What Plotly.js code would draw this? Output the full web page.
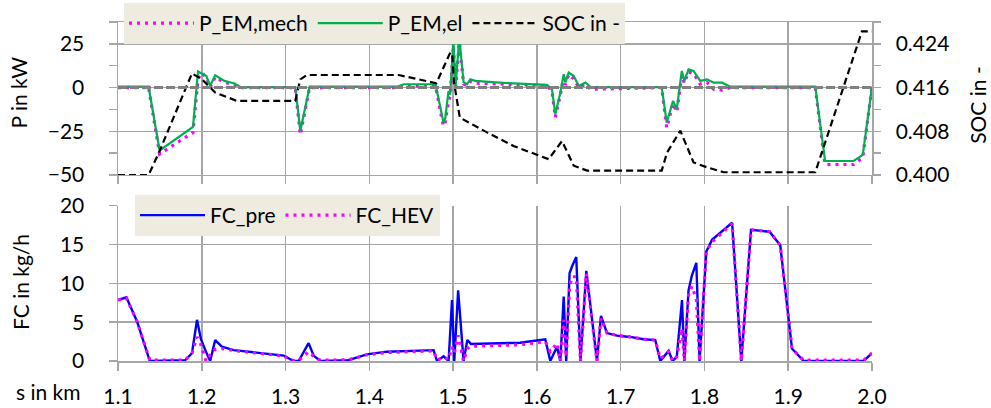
<!DOCTYPE html>
<html>
<head>
<meta charset="utf-8">
<script src="https://cdn.plot.ly/plotly-3.0.1.min.js"></script>
<style>html,body{margin:0;padding:0;background:#fff;}#chart{width:991px;height:408px;}</style>
</head>
<body>
<div id="chart"></div>
<script>
// ---- data ----
const s_pem = [1.1000,1.1365,1.1497,1.1895,1.1955,1.2003,1.2055,1.2100,1.2160,1.2270,1.2390,1.2460,1.3116,1.3176,1.3287,1.4330,1.4410,1.4790,1.4866,1.4885,1.4905,1.4945,1.4965,1.5003,1.5030,1.5074,1.5125,1.5165,1.5205,1.5265,1.5600,1.6120,1.6180,1.6220,1.6280,1.6320,1.6340,1.6380,1.6440,1.6500,1.6580,1.6640,1.7490,1.7550,1.7625,1.7670,1.7730,1.7760,1.7810,1.7870,1.7950,1.8030,1.8110,1.8210,1.8310,1.9323,1.9440,1.9780,1.9890,2.0000];
const p_el = [0.5,0.5,-36,-22.5,9.2,8.0,6.6,1.0,7.0,3.8,2.3,0.3,0.3,-24.8,0.5,0.5,1.9,1.9,-16,-20,-18,-2,-4,26.6,1,28.5,3,1.9,4.7,3.8,2.7,1.5,-1,-15.2,-2.9,7.6,2.9,8.6,6.6,0.9,2.9,0.3,0.3,-20,-7.6,-12.4,9.5,3.8,10.4,9.5,3.8,4.7,2.8,2.8,0.5,0.5,-42,-42,-38.5,0.5];
const p_mech = [0,0,-38,-25.7,5,8.5,5.5,0,6,3,1.5,0,0,-27,0,0,1,1,-18,-22,-20,-7.6,-5,24,0,26,2,1,3.5,2.5,2,1,-2,-17,-4,6,1.5,7.5,5,0,2,-1,0,-23,-9,-14,7,2.5,9,8,2,3,-1,-1.4,0,0,-44,-44,-40,0.5];

const s_soc = [1.1000,1.1365,1.1497,1.1883,1.2003,1.2160,1.2420,1.3116,1.3176,1.3256,1.4350,1.4800,1.4966,1.4990,1.5010,1.5080,1.5404,1.5722,1.6140,1.6200,1.6300,1.6440,1.6600,1.7490,1.7553,1.7712,1.7870,1.8030,1.8230,1.9323,1.9880,2.0000];
const soc = [0.4000,0.4000,0.4044,0.4186,0.4175,0.4151,0.41355,0.41355,0.4175,0.4183,0.4183,0.4168,0.4224,0.4222,0.4170,0.4105,0.4078,0.4053,0.4029,0.4041,0.4062,0.4017,0.4008,0.4008,0.4041,0.4081,0.4023,0.4014,0.4005,0.4005,0.4263,0.4263];

const s_fc = [1.1000,1.1100,1.1227,1.1346,1.1380,1.1800,1.1883,1.1943,1.1990,1.2050,1.2100,1.2160,1.2240,1.2380,1.2977,1.3096,1.3156,1.3275,1.3335,1.3415,1.3750,1.3970,1.4210,1.4767,1.4808,1.4887,1.4946,1.4987,1.5014,1.5060,1.5125,1.5170,1.5213,1.5800,1.5920,1.6100,1.6160,1.6240,1.6280,1.6320,1.6350,1.6390,1.6420,1.6470,1.6520,1.6590,1.6717,1.6765,1.6837,1.6956,1.7115,1.7274,1.7413,1.7473,1.7572,1.7620,1.7670,1.7732,1.7760,1.7810,1.7850,1.7903,1.7942,1.8022,1.8090,1.8330,1.8440,1.8556,1.8778,1.8905,1.9045,1.9183,1.9900,2.0000];
const fc_pre = [7.85,8.2,5.1,1.0,0,0.1,1.0,5.3,2.8,1.2,0,2.7,1.85,1.4,0.7,0,0,2.3,0.7,0,0.1,0.85,1.2,1.4,0,0.6,0,7.85,0,9.1,0,2.7,2.2,2.35,2.5,2.8,0,1.85,0,8.3,0,11.3,12.2,13.4,0,11.6,0,5.8,3.6,3.26,3.1,2.8,2.7,0,1.3,0,0.55,7.85,0,9.1,11.0,12.65,0,14.1,15.6,17.8,0,16.9,16.65,14.9,1.6,0,0,1.0];
const fc_hev = [7.85,8.1,5.1,1.0,0.1,0.1,1.0,3.1,2.1,0,0.8,1.5,1.6,1.35,0.65,0.05,0.05,1.2,0.6,0.1,0.15,0.8,1.1,1.3,0.1,0.5,0.2,1.8,1.0,3.3,0,1.6,1.9,2.1,2.3,2.5,1.2,2.3,0,5.3,0.5,9.6,10.85,10.85,0,11.3,0,5.5,3.6,3.3,3.1,2.8,2.7,0.3,1.2,0,0.55,4.2,0,8.5,9.6,8.0,0,14.1,15.3,17.7,0,16.9,16.65,14.9,1.6,0.1,0.1,1.0];

const xTickVals = [1.1,1.2,1.3,1.4,1.5,1.6,1.7,1.8,1.9,2.0];
const xTickText = ['1.1','1.2','1.3','1.4','1.5','1.6','1.7','1.8','1.9','2.0'];

// ---- styling ----
const FONT = 'Lato, "Open Sans", sans-serif';
const GRID = '#a6a6a6';

const traces = [
  {x: s_pem, y: p_mech, name: 'P_EM,mech', type: 'scatter', mode: 'lines', xaxis: 'x', yaxis: 'y',
   line: {color: '#ff00ff', width: 3.2, dash: '3px,5px'}, legend: 'legend'},
  {x: s_pem, y: p_el, name: 'P_EM,el', type: 'scatter', mode: 'lines', xaxis: 'x', yaxis: 'y',
   line: {color: '#00b050', width: 2.2}, legend: 'legend'},
  {x: s_soc, y: soc, name: 'SOC in -', type: 'scatter', mode: 'lines', xaxis: 'x', yaxis: 'y2',
   line: {color: '#000000', width: 2.2, dash: '7px,4px'}, legend: 'legend'},
  {x: s_fc, y: fc_pre, name: 'FC_pre', type: 'scatter', mode: 'lines', xaxis: 'x2', yaxis: 'y3',
   line: {color: '#0000ff', width: 2.4}, legend: 'legend2'},
  {x: s_fc, y: fc_hev, name: 'FC_HEV', type: 'scatter', mode: 'lines', xaxis: 'x2', yaxis: 'y3',
   line: {color: '#ff00ff', width: 3.2, dash: '3px,5px'}, legend: 'legend2'}
];

const xCommon = {
  range: [1.1, 2.0], tickvals: xTickVals, ticktext: xTickText,
  showgrid: true, gridcolor: GRID, gridwidth: 1.5,
  showline: true, linecolor: GRID, linewidth: 1.5,
  ticks: 'outside', ticklen: 8, tickcolor: GRID, tickwidth: 1.5,
  zeroline: false, fixedrange: true
};

const layout = {
  width: 991, height: 408,
  margin: {l: 118, r: 119, t: 22, b: 47, autoexpand: false},
  paper_bgcolor: '#ffffff', plot_bgcolor: '#ffffff',
  font: {family: FONT, size: 21, color: '#000000'},
  showlegend: true,
  xaxis: Object.assign({}, xCommon, {anchor: 'y', showticklabels: false, mirror: true}),
  xaxis2: Object.assign({}, xCommon, {anchor: 'y3', matches: 'x', showticklabels: true,
    tickfont: {family: FONT, size: 21, color: '#000'}, ticklabelstandoff: 8}),
  yaxis: {
    domain: [0.5487, 1.0], range: [-50, 37.5], tickvals: [-50, -25, 0, 25],
    showgrid: true, gridcolor: GRID, gridwidth: 1.5,
    showline: true, linecolor: GRID, linewidth: 1.5,
    ticks: 'outside', ticklen: 8, tickcolor: GRID, tickwidth: 1.5,
    minor: {dtick: 12.5, tick0: -50, ticks: 'outside', ticklen: 8, tickcolor: GRID, tickwidth: 1.5, showgrid: false},
    zeroline: false, ticklabelstandoff: 20,
    tickfont: {family: FONT, size: 21, color: '#000'}, fixedrange: true
  },
  yaxis2: {
    overlaying: 'y', side: 'right', anchor: 'x',
    range: [0.400, 0.428], tickvals: [0.400, 0.408, 0.416, 0.424], tickformat: '.3f',
    showgrid: false, showline: true, linecolor: GRID, linewidth: 1.5,
    ticks: 'outside', ticklen: 7, tickcolor: GRID, tickwidth: 1.5,
    minor: {dtick: 0.004, tick0: 0.4, ticks: 'outside', ticklen: 7, tickcolor: GRID, tickwidth: 1.5, showgrid: false},
    zeroline: false, ticklabelstandoff: 11,
    tickfont: {family: FONT, size: 21, color: '#000'}, fixedrange: true
  },
  yaxis3: {
    domain: [0, 0.4581], anchor: 'x2', range: [0, 20], tickvals: [0, 5, 10, 15, 20],
    showgrid: true, gridcolor: GRID, gridwidth: 1.5,
    showline: true, linecolor: GRID, linewidth: 1.5,
    ticks: 'outside', ticklen: 8, tickcolor: GRID, tickwidth: 1.5,
    zeroline: false, ticklabelstandoff: 20,
    tickfont: {family: FONT, size: 21, color: '#000'}, fixedrange: true
  },
  legend: {
    orientation: 'h', xref: 'container', yref: 'container',
    x: 124 / 991, y: 1 - 3 / 408, xanchor: 'left', yanchor: 'top',
    bgcolor: '#eeece1', borderwidth: 0, itemwidth: 65,
    font: {family: FONT, size: 21, color: '#000'},
    itemclick: false, itemdoubleclick: false
  },
  legend2: {
    orientation: 'h', xref: 'container', yref: 'container',
    x: 135 / 991, y: 1 - 195 / 408, xanchor: 'left', yanchor: 'top',
    bgcolor: '#eeece1', borderwidth: 0, itemwidth: 65,
    font: {family: FONT, size: 21, color: '#000'},
    itemclick: false, itemdoubleclick: false
  },
  shapes: [
    {type: 'line', xref: 'x domain', yref: 'y', x0: 0, x1: 1, y0: 0, y1: 0,
     line: {color: '#808080', width: 3, dash: '9px,3px'}, layer: 'above'}
  ],
  annotations: [
    {text: 'P in kW', xref: 'paper', yref: 'paper', x: -0.1326, y: 0.792, textangle: -90,
     showarrow: false, xanchor: 'center', yanchor: 'middle', font: {family: FONT, size: 21, color: '#000'}},
    {text: 'SOC in -', xref: 'paper', yref: 'paper', x: 1.139, y: 0.755, textangle: -90,
     showarrow: false, xanchor: 'center', yanchor: 'middle', font: {family: FONT, size: 21, color: '#000'}},
    {text: 'FC in kg/h', xref: 'paper', yref: 'paper', x: -0.1300, y: 0.233, textangle: -90,
     showarrow: false, xanchor: 'center', yanchor: 'middle', font: {family: FONT, size: 21, color: '#000'}},
    {text: 's in km', xref: 'paper', yref: 'paper', x: -0.0922, y: -0.0906,
     showarrow: false, xanchor: 'center', yanchor: 'middle', font: {family: FONT, size: 21, color: '#000'}}
  ]
};

Plotly.newPlot('chart', traces, layout, {displayModeBar: false, staticPlot: true});
</script>
</body>
</html>
